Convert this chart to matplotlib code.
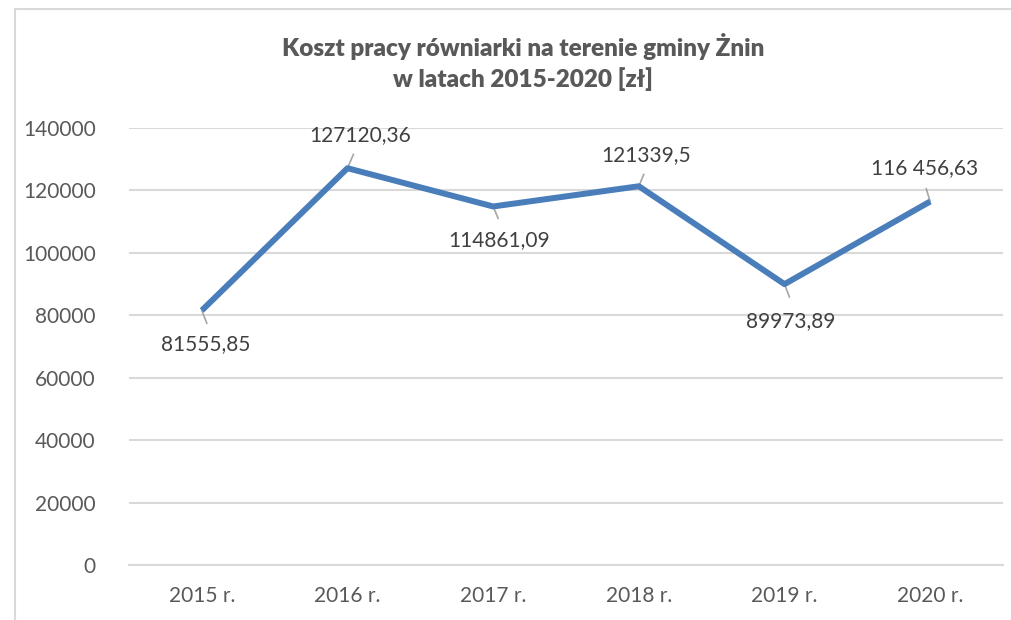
import matplotlib
matplotlib.use('Agg')
from matplotlib import pyplot as plt
from matplotlib.patches import Rectangle

years = ['2015 r.', '2016 r.', '2017 r.', '2018 r.', '2019 r.', '2020 r.']
costs = [81555.85, 127120.36, 114861.09, 121339.5, 89973.89, 116456.63]
value_labels = ['81555,85', '127120,36', '114861,09', '121339,5', '89973,89', '116 456,63']
y_ticks = [0, 20000, 40000, 60000, 80000, 100000, 120000, 140000]

# label offsets (pixels) from each point, and leader line end
label_off = [(4, -34), (13, 33), (6, -34), (7, 31), (6, -37), (-6, 33)]
leader_off = [(5, -13), (6, 14), (5, -12), (5, 12), (5, -13), (-4, 13)]

grey = '#595959'
blue = '#4a7ebb'
plt.rcParams['font.family'] = ['Lato', 'DejaVu Sans']

fig = plt.figure(figsize=(10.12, 6.2), dpi=100)
W, H = 1012, 620
ax = fig.add_axes([129 / W, (H - 565) / H, (1003 - 129) / W, (565 - 128) / H])

x = list(range(len(years)))
ax.plot(x, costs, color=blue, linewidth=4.3, solid_capstyle='butt', zorder=3)

for i, (v, lab) in enumerate(zip(costs, value_labels)):
    ax.annotate('', xy=(i, v), xytext=leader_off[i], textcoords='offset pixels',
                arrowprops=dict(arrowstyle='-', color='#a6a6a6', lw=1.2,
                                shrinkA=0, shrinkB=0), zorder=2)
    ax.annotate(lab, xy=(i, v), xytext=label_off[i], textcoords='offset pixels',
                ha='center', va='center', fontsize=15, color='#404040')

ax.set_xlim(-0.5, len(years) - 0.5)
ax.set_ylim(0, 140000)
ax.set_yticks(y_ticks)
ax.set_yticklabels([str(t) for t in y_ticks])
ax.set_xticks(x)
ax.set_xticklabels(years)
ax.tick_params(length=0, labelsize=15, labelcolor=grey)
ax.tick_params(axis='y', pad=24)
ax.tick_params(axis='x', pad=15)
ax.grid(axis='y', color='#d9d9d9', linewidth=1.5)
ax.set_axisbelow(True)
for s in ['top', 'right', 'left']:
    ax.spines[s].set_visible(False)
ax.spines['bottom'].set_color('#d9d9d9')
ax.spines['bottom'].set_linewidth(1.5)

fig.text(523 / W, 1 - 47 / H, 'Koszt pracy równiarki na terenie gminy Żnin',
         ha='center', va='center', fontsize=17.5, fontweight='heavy', color=grey)
fig.text(523 / W, 1 - 79 / H, 'w latach 2015-2020 [zł]',
         ha='center', va='center', fontsize=17.5, fontweight='heavy', color=grey)

fig.patches.append(Rectangle((15 / W, -0.05), 1.2, 1 - 9 / H + 0.05,
                             transform=fig.transFigure, fill=False,
                             edgecolor='#d9d9d9', linewidth=1.5))

fig.savefig('out.png', dpi=100)
